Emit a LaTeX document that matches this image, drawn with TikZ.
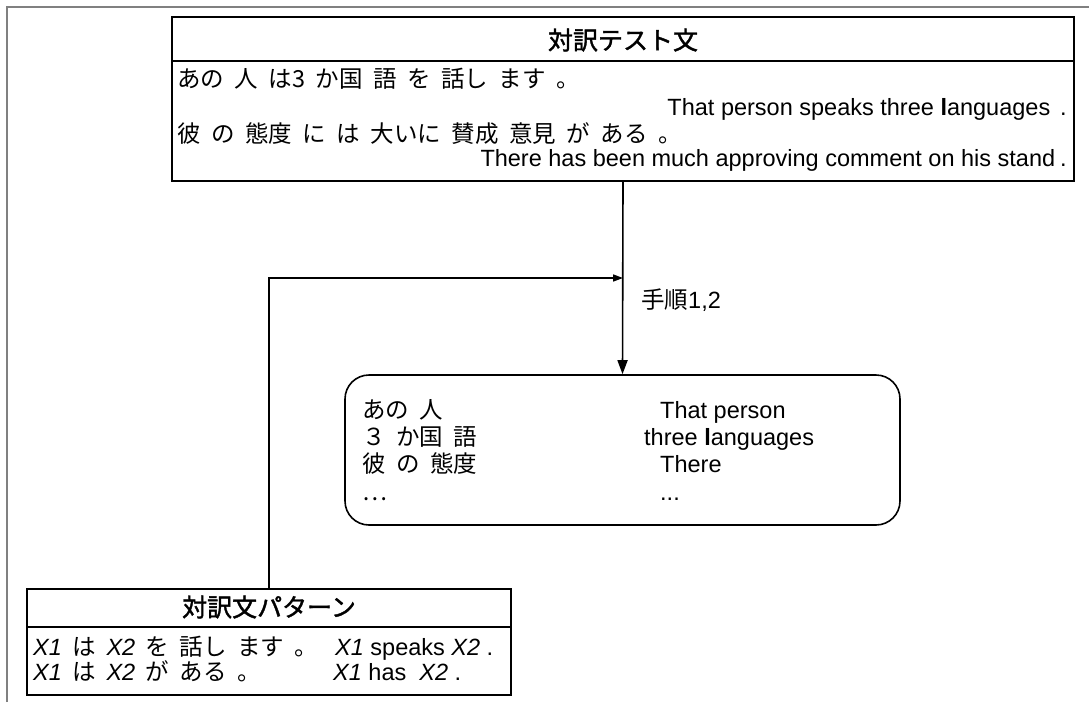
\documentclass[tikz,border=0pt]{standalone}
\usepackage{fontspec}
\setmainfont{Liberation Sans}
\newfontfamily\jp{Noto Sans CJK JP}[WordSpace=2.0]
\newfontfamily\jpt{Noto Sans CJK JP}[FakeBold=1.5]
\usetikzlibrary{arrows.meta}
\begin{document}
\begin{tikzpicture}[x=1pt,y=-1pt,
  box/.style={draw,line width=1.6pt,inner sep=0pt},
  ttl/.style={inner sep=0pt,font=\jpt\fontsize{25}{29}\selectfont},
  en/.style={inner sep=0pt,font=\fontsize{23.5}{28}\selectfont},
  ja/.style={inner sep=0pt,font=\jp\fontsize{23.5}{27}\selectfont},
  conn/.style={line width=1.6pt}]
\useasboundingbox (0,0) rectangle (1089,702);
\draw[gray,line width=1.5pt] (7,702) -- (7,7) -- (1089,7);

% top box
\node[box,minimum width=902pt,minimum height=44pt] (testtitle) at (623,39) {};
\node[ttl] (testtitletext) at (623,40) {対訳テスト文};
\node[box,minimum width=902pt,minimum height=120pt] (testbody) at (623,121) {};
\node[ja,anchor=base west] (t1) at (177,87) {あの 人 は3 か国 語 を 話し ます 。};
\node[en,anchor=base east] (t2) at (1067,115) {That person speaks three {\bfseries l}anguages\hspace{10pt}.};
\node[ja,anchor=base west] (t3) at (177,142) {彼 の 態度 に は 大いに 賛成 意見 が ある 。};
\node[en,anchor=base east] (t4) at (1067,166) {There has been much approving comment on his stand\hspace{5pt}.};

% alignment box
\node[box,rounded corners=24pt,minimum width=555pt,minimum height=150pt] (align) at (622.5,450) {};
\node[ja,anchor=base west] (a1) at (362,418) {あの 人};
\node[ja,anchor=base west] (a2) at (362,445) {３ か国 語};
\node[ja,anchor=base west] (a3) at (362,472) {彼 の 態度};
\node[ja,anchor=base west] (a4) at (362,500) {…};
\node[en,anchor=base west] (b1) at (660,418) {That person};
\node[en,anchor=base west] (b2) at (644,445) {three {\bfseries l}anguages};
\node[en,anchor=base west] (b3) at (660,472) {There};
\node[en,anchor=base west] (b4) at (660,500) {...};

% pattern box
\node[box,minimum width=484pt,minimum height=38pt] (pattitle) at (269,608) {};
\node[ttl] (pattitletext) at (269,607) {対訳文パターン};
\node[box,minimum width=484pt,minimum height=68pt] (patbody) at (269,661) {};
\node[ja,anchor=base west] (p1) at (33,655) {{\rmfamily\itshape X1} は {\rmfamily\itshape X2} を 話し ます 。};
\node[en,anchor=base west] (q1) at (335,655) {\itshape X1\upshape{} speaks \itshape X2\upshape{} .};
\node[ja,anchor=base west] (p2) at (33,680) {{\rmfamily\itshape X1} は {\rmfamily\itshape X2} が ある 。};
\node[en,anchor=base west] (q2) at (333,680) {\itshape X1\upshape{} has \ \itshape X2\upshape{} .};

% connectors
\draw[conn,-{Triangle[length=14pt,width=10pt]}] (testbody.south) -- (align.north);
\coordinate (join) at (623,278);
\draw[conn,-{Triangle[length=10pt,width=7pt]}] (pattitle.north) |- (join);
\node[inner sep=0pt,anchor=west,font=\fontsize{23.5}{27}\selectfont] (steplabel) at (641,300) {{\jp 手順}1,2};
\end{tikzpicture}
\end{document}
